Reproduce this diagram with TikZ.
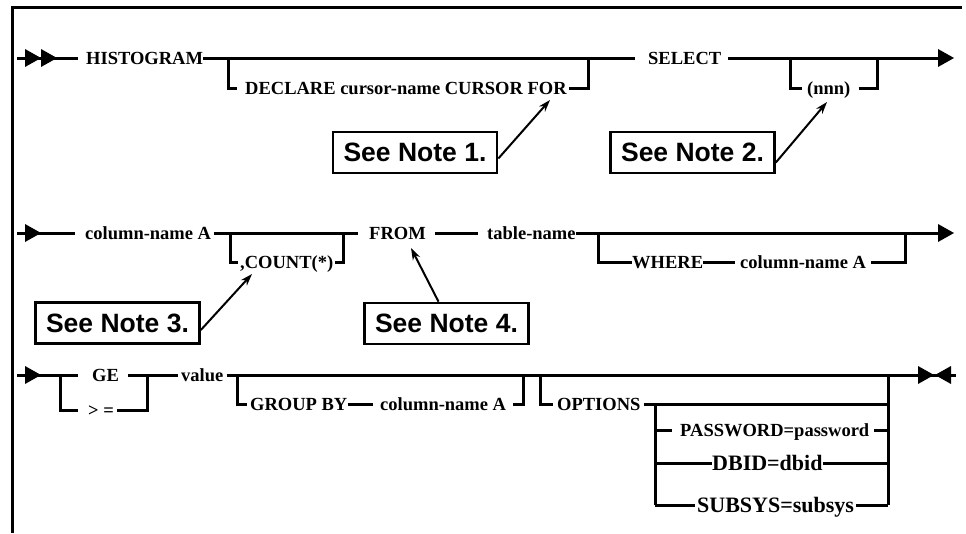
\documentclass[tikz,border=0pt]{standalone}
\usepackage{fontspec}
\setmainfont{Liberation Serif}
\newfontfamily\notefont{Liberation Sans}
\usetikzlibrary{arrows.meta}
\newcommand\RRtriR[2]{\fill (#1,#2-9) -- ++(16,9) -- ++(-16,9) -- cycle;}
\newcommand\RRtriL[2]{\fill (#1,#2) -- ++(16,-9) -- ++(0,18) -- cycle;}
\tikzset{
  kw/.style={font=\bfseries\fontsize{18.5}{20}\selectfont, inner sep=0pt, text height=12.2pt, text depth=0pt, anchor=west},
  kwbig/.style={kw, font=\bfseries\fontsize{22}{24}\selectfont, text height=14.5pt},
  rr/.style={line width=3pt},
  notebox/.style={draw, line width=2.7pt, font=\notefont\bfseries\fontsize{26.5}{28}\selectfont, minimum width=164pt, minimum height=41pt, inner sep=0pt},
  notearrow/.style={line width=2pt, -{Stealth[length=12pt,width=8pt]}}
}
\begin{document}
\begin{tikzpicture}[x=1pt,y=-1pt]
\useasboundingbox (0,0) rectangle (966,533);
% frame
\draw[line width=3pt] (12,533) -- (12,7) -- (962,7);

% ---------- Row 1 ----------
\coordinate (s1) at (17,58);
\node[kw] (hist) at (86,58) {HISTOGRAM};
\draw[rr] (s1) -- ([xshift=-8pt]hist.west);
\RRtriR{25}{58}
\RRtriR{41}{58}
\node[kw] (select) at (648,58) {SELECT};
\draw[rr] (hist.east) -- ([xshift=-13pt]select.west);
\node[kw] (decl) at (245,88) {DECLARE cursor-name CURSOR FOR};
\coordinate (j1a) at (228,58);
\coordinate (j1b) at (588,58);
\draw[rr] (j1a) |- ([xshift=-8pt]decl.west);
\draw[rr] ([xshift=2pt]decl.east) -| (j1b);
\coordinate (e1) at (938,58);
\draw[rr] ([xshift=7pt]select.east) -- (e1);
\RRtriR{938}{58}
\node[kw] (nnn) at (807,88) {(nnn)};
\coordinate (j2a) at (790,58);
\coordinate (j2b) at (877,58);
\draw[rr] (j2a) |- ([xshift=-5pt]nnn.west);
\draw[rr] ([xshift=8pt]nnn.east) -| (j2b);

\node[notebox] (n1) at (415,152.5) {See Note 1.};
\coordinate (t1) at (550,100);
\draw[notearrow] ([yshift=-6pt]n1.east) -- (t1);
\node[notebox] (n2) at (692.5,152.5) {See Note 2.};
\coordinate (t2) at (827,102);
\draw[notearrow] ([yshift=-10pt]n2.east) -- (t2);

% ---------- Row 2 ----------
\coordinate (s2) at (17,233);
\node[kw] (colA) at (85,233) {column-name A};
\draw[rr] (s2) -- ([xshift=-10pt]colA.west);
\RRtriR{25}{233}
\node[kw] (from) at (369,233) {FROM};
\draw[rr] ([xshift=3pt]colA.east) -- ([xshift=-11pt]from.west);
\node[kw] (count) at (240,262) {,COUNT(*)};
\coordinate (j3a) at (230,233);
\coordinate (j3b) at (343,233);
\draw[rr] (j3a) |- ([xshift=-2pt]count.west);
\draw[rr] ([xshift=2pt]count.east) -| (j3b);
\node[kw] (table) at (487,233) {table-name};
\draw[rr] ([xshift=9pt]from.east) -- ([xshift=-9pt]table.west);
\coordinate (e2) at (938,233);
\draw[rr] (table.east) -- (e2);
\RRtriR{938}{233}
\node[kw] (where) at (632,262) {WHERE};
\node[kw] (colB) at (740,262) {column-name A};
\coordinate (j4a) at (598,233);
\coordinate (j4b) at (905,233);
\draw[rr] (j4a) |- (where.west);
\draw[rr] (where.east) -- ([xshift=-5pt]colB.west);
\draw[rr] ([xshift=5pt]colB.east) -| (j4b);

\node[notebox] (n3) at (117.5,323) {See Note 3.};
\coordinate (t3) at (252,274);
\draw[notearrow] ([yshift=-7pt]n3.east) -- (t3);
\node[notebox] (n4) at (446.5,323.5) {See Note 4.};
\coordinate (t4) at (411,248);
\draw[notearrow] ([xshift=-8pt]n4.north) -- (t4);

% ---------- Row 3 ----------
\coordinate (s3) at (17,375);
\node[kw] (ge) at (92,375) {GE};
\node[kw] (geq) at (88,410) {> =};
\draw[rr] (s3) -- ([xshift=-14pt]ge.west);
\RRtriR{25}{375}
\coordinate (j5a) at (60,375);
\coordinate (j5b) at (147,375);
\draw[rr] (j5a) |- ([xshift=-10pt]geq.west);
\draw[rr] ([xshift=3pt]geq.east) -| (j5b);
\node[kw] (value) at (181,375) {value};
\draw[rr] ([xshift=9pt]ge.east) -- ([xshift=-3pt]value.west);
\coordinate (end3) at (956,375);
\draw[rr] ([xshift=3pt]value.east) -- (end3);
\RRtriR{918}{375}
\RRtriL{935}{375}

\node[kw] (group) at (250,404) {GROUP BY};
\node[kw] (colC) at (380,404) {column-name A};
\coordinate (j6a) at (237,375);
\coordinate (j6b) at (523,375);
\draw[rr] (j6a) |- ([xshift=-3pt]group.west);
\draw[rr] (group.east) -- ([xshift=-7pt]colC.west);
\draw[rr] ([xshift=7pt]colC.east) -| (j6b);

\node[kw] (opt) at (557,404) {OPTIONS};
\coordinate (j7a) at (540,375);
\coordinate (j7b) at (888,375);
\coordinate (j8) at (655,404);
\draw[rr] (j7a) |- ([xshift=-4pt]opt.west);
\draw[rr] ([xshift=3pt]opt.east) -- (j7b |- opt);
\node[kw] (pw) at (680,430) {PASSWORD=password};
\node[kwbig] (dbid) at (712,463) {DBID=dbid};
\node[kwbig] (subsys) at (697,505) {SUBSYS=subsys};
\draw[rr] (j7b) -- (j7b |- subsys);
\draw[rr] (j8) -- (j8 |- subsys);
\draw[rr] (j8 |- pw) -- ([xshift=-8pt]pw.west);
\draw[rr] ([xshift=5pt]pw.east) -- (j7b |- pw);
\draw[rr] (j8 |- dbid) -- (dbid.west);
\draw[rr] (dbid.east) -- (j7b |- dbid);
\draw[rr] (j8 |- subsys) -- ([xshift=-2pt]subsys.west);
\draw[rr] ([xshift=2pt]subsys.east) -- (j7b |- subsys);
\end{tikzpicture}
\end{document}
